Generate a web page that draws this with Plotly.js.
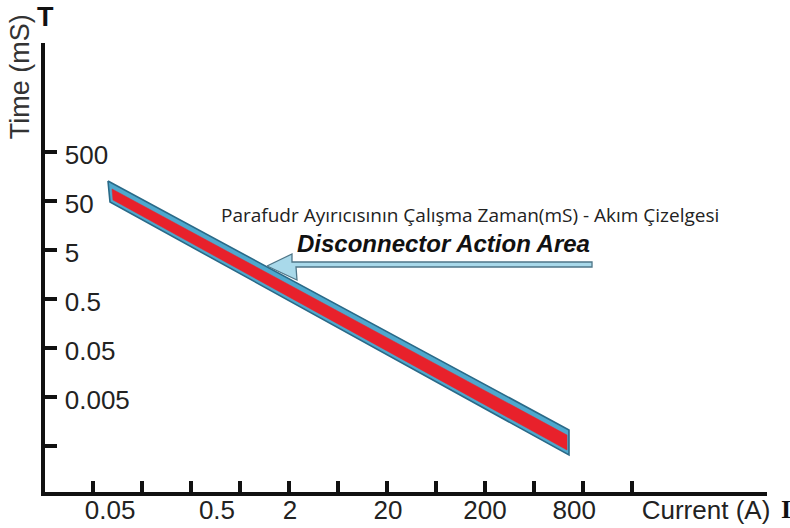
<!DOCTYPE html>
<html>
<head>
<meta charset="utf-8">
<script src="https://cdn.plot.ly/plotly-3.0.1.min.js"></script>
<style>html,body{margin:0;padding:0;background:#fff;}#chart{width:790px;height:528px;}</style>
</head>
<body>
<div id="chart"></div>
<script>
// Schematic axes: evenly spaced tick marks (index units)
var xTickVals = [1, 2, 3, 4, 5, 6, 7, 8, 9, 10, 11, 12];
var xLabelPos = [1.35, 3.53, 5.02, 7.02, 9.0, 10.82, 13.51];
var xLabels = ['0.05', '0.5', '2', '20', '200', '800', 'Current (A)'];
var yTickVals = [1, 2, 3, 4, 5, 6, 7];
var yLabels = ['', '0.005', '0.05', '0.5', '5', '50', '500'];

// Disconnector action band (outer blue band, inner red band)
var bandOuterX = [1.306, 10.714, 10.714, 1.347, 1.306];
var bandOuterY = [6.408, 1.327, 0.816, 5.980, 6.408];
var bandInnerX = [1.388, 10.673, 10.673, 1.408, 1.388];
var bandInnerY = [6.245, 1.224, 0.918, 6.020, 6.245];

// Block arrow pointing at the band
var arrowX = [4.551, 5.061, 5.061, 11.184, 11.184, 5.143, 5.163, 4.551];
var arrowY = [4.673, 4.918, 4.755, 4.755, 4.653, 4.653, 4.388, 4.673];

var titleText = 'Parafudr Ayırıcısının Çalışma Zaman(mS) - Akım Çizelgesi';
var areaText = 'Disconnector Action Area';

var xRange = [0.0204, 14.755];
var yRange = [0.0612, 9.224];

var traces = [
  {x: bandOuterX, y: bandOuterY, type: 'scatter', mode: 'lines', fill: 'toself',
   fillcolor: '#4ea8cd', line: {color: '#2a6a88', width: 1.6}, hoverinfo: 'skip', showlegend: false},
  {x: bandInnerX, y: bandInnerY, type: 'scatter', mode: 'lines', fill: 'toself',
   fillcolor: '#e8212b', line: {color: '#e8212b', width: 0.5}, hoverinfo: 'skip', showlegend: false},
  {x: arrowX, y: arrowY, xaxis: 'x2', yaxis: 'y2', type: 'scatter', mode: 'lines', fill: 'toself',
   fillcolor: '#a9d9ea', line: {color: '#4f7688', width: 1.3}, hoverinfo: 'skip', showlegend: false}
];

var tickFont = {family: 'Liberation Sans, Arial, sans-serif', size: 26, color: '#222'};

var layout = {
  width: 790, height: 528,
  margin: {l: 45, r: 23, t: 43, b: 36, pad: 0},
  paper_bgcolor: '#fff', plot_bgcolor: '#fff',
  showlegend: false,
  xaxis: {
    range: xRange, showgrid: false, zeroline: false,
    showline: true, linecolor: '#111', linewidth: 4,
    tickmode: 'array', tickvals: xTickVals, showticklabels: false,
    ticks: 'inside', ticklen: 11, tickwidth: 4, tickcolor: '#111'
  },
  xaxis2: {
    overlaying: 'x', anchor: 'free', position: 0, side: 'bottom',
    range: xRange, showgrid: false, zeroline: false, showline: false,
    tickmode: 'array', tickvals: xLabelPos, ticktext: xLabels, ticks: '',
    tickfont: tickFont
  },
  yaxis: {
    range: yRange, showgrid: false, zeroline: false,
    showline: true, linecolor: '#111', linewidth: 4,
    tickmode: 'array', tickvals: yTickVals, showticklabels: false,
    ticks: 'inside', ticklen: 12, tickwidth: 4, tickcolor: '#111'
  },
  yaxis2: {
    overlaying: 'y', anchor: 'free', position: 0.026, side: 'right',
    range: yRange, showgrid: false, zeroline: false, showline: false,
    tickmode: 'array', tickvals: yTickVals, ticktext: yLabels, ticks: '',
    ticklabelshift: 3, tickfont: tickFont
  },
  annotations: [
    {text: titleText, x: 8.694, y: 5.714, xref: 'x', yref: 'y', showarrow: false,
     xanchor: 'center', yanchor: 'middle', font: {family: 'Open Sans, Noto Sans, sans-serif', size: 19, color: '#222'}},
    {text: areaText, x: 8.143, y: 5.133, xref: 'x', yref: 'y', showarrow: false,
     xanchor: 'center', yanchor: 'middle', font: {family: 'Liberation Sans, Arial, sans-serif', size: 24, color: '#111', weight: 'bold', style: 'italic'}},
    {text: 'Time (mS)', x: -0.0346, y: 0.924, xref: 'paper', yref: 'paper', showarrow: false,
     textangle: -90, xanchor: 'center', yanchor: 'middle', font: {family: 'Liberation Sans, Arial, sans-serif', size: 27, color: '#333'}},
    {text: 'T', x: 0, y: 1.058, xref: 'paper', yref: 'paper', showarrow: false,
     xanchor: 'center', yanchor: 'middle', font: {family: 'Liberation Sans, Arial, sans-serif', size: 27, color: '#111', weight: 'bold'}},
    {text: 'I', x: 1.0165, y: -0.038, xref: 'paper', yref: 'paper', showarrow: false,
     xanchor: 'left', yanchor: 'middle', font: {family: 'Liberation Serif, serif', size: 26, color: '#111', weight: 'bold'}}
  ]
};

Plotly.newPlot('chart', traces, layout, {staticPlot: true, displayModeBar: false});
</script>
</body>
</html>
